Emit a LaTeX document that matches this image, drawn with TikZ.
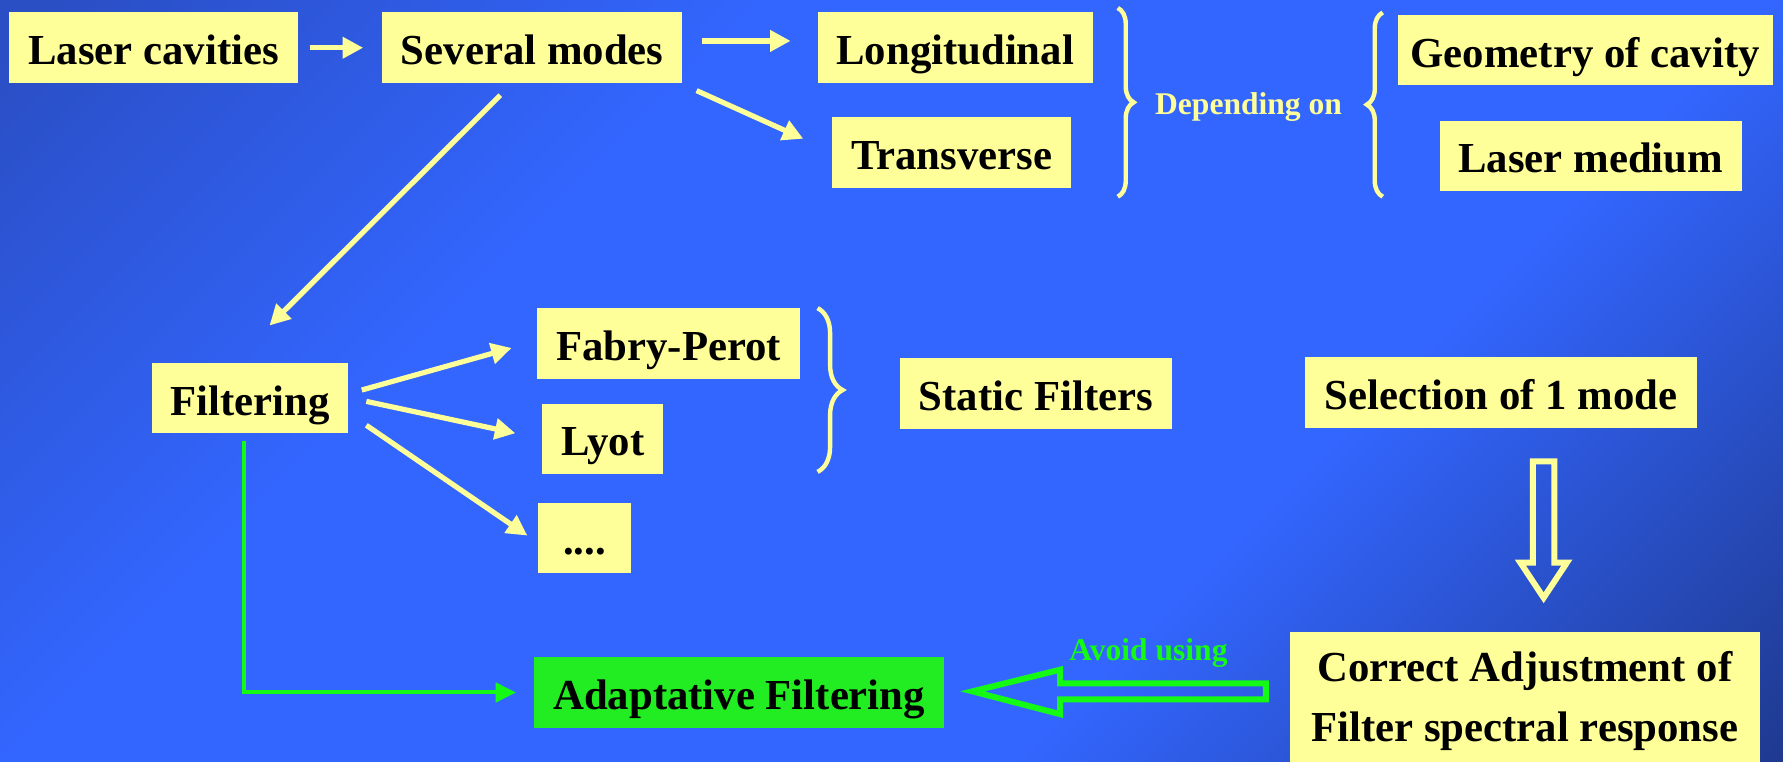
\documentclass[tikz,border=0pt]{standalone}
\usepackage{fontspec}
\setmainfont{Liberation Serif}
\usetikzlibrary{arrows.meta, decorations.pathreplacing}

\definecolor{boxyellow}{RGB}{255,255,153}
\definecolor{boxgreen}{RGB}{34,236,34}
\definecolor{linegreen}{RGB}{20,250,20}
\definecolor{bgdark}{RGB}{42,78,196}
\definecolor{bgmid}{RGB}{51,102,255}
\definecolor{bgnavy}{RGB}{30,56,140}
\pgfdeclarehorizontalshading{slidebg}{100bp}{color(0bp)=(bgdark); color(16bp)=(bgdark); color(36bp)=(bgmid); color(64bp)=(bgmid); color(86bp)=(bgnavy); color(100bp)=(bgnavy)}

\begin{document}
\begin{tikzpicture}[x=0.1mm, y=-0.1mm,
	box/.style={fill=boxyellow, inner xsep=1.65mm, inner ysep=0pt, minimum height=6.2mm, text height=3.2mm, text depth=0.2mm, font=\fontsize{10.7}{12.8}\selectfont\bfseries},
	note/.style={font=\fontsize{7.9}{9.5}\selectfont\bfseries},
	yarrow/.style={draw=boxyellow, line width=1.3pt, -{Triangle[length=1.8mm, width=1.8mm]}},
	garrow/.style={draw=linegreen, line width=1pt, -{Triangle[length=1.8mm, width=1.7mm]}},
	brace/.style={draw=boxyellow, line width=1.1pt, decorate, decoration={brace, amplitude=#1}}]
	\useasboundingbox (0,0) rectangle (1568,670);
	\clip (0,0) rectangle (1568,670);
	\shade[shading=slidebg, shading angle=-45] (0,0) rectangle (1568,670);
	\node[box] (laser) at (135,42) {Laser cavities};
	\node[box] (several) at (468,42) {Several modes};
	\node[box] (longit) at (840,42) {Longitudinal};
	\node[box] (trans) at (837,134) {Transverse};
	\node[box, inner xsep=1.15mm] (geometry) at (1394,44) {Geometry of cavity};
	\node[box] (medium) at (1399,137) {Laser medium};
	\node[note, text=boxyellow] (depending) at (1098,94) {Depending on};
	\node[box] (filtering) at (220,350) {Filtering};
	\node[box] (fabry) at (588,302) {Fabry-Perot};
	\node[box] (lyot) at (530,386) {Lyot};
	\node[box, minimum width=8.1mm] (dots) at (514,473) {....};
	\node[box] (static) at (911,346) {Static Filters};
	\node[box, minimum width=34.5mm] (select) at (1320,345) {Selection of 1 mode};
	\node[box, fill=boxgreen, minimum width=36.1mm] (adapt) at (650,609) {Adaptative Filtering};
	\node[box, anchor=north, align=center, inner ysep=1.7mm, text height={}, text depth={}, minimum width=41.4mm, font=\fontsize{10.7}{15}\selectfont\bfseries] (correct) at (1341,555) {Correct Adjustment of\\Filter spectral response};
	\node[note, text=linegreen] (avoid) at (1010,574) {Avoid using};
	\draw[yarrow] ([shift={(10,0)}]laser.east) -- ([shift={(-16,0)}]several.west);
	\draw[yarrow] ([shift={(17,-6)}]several.east) -- ([shift={(-23,-6)}]longit.west);
	\draw[yarrow] ([shift={(12,6)}]several.south east) -- ([shift={(-25,-12)}]trans.west);
	\draw[yarrow] ([shift={(-28,10)}]several.south) -- ([shift={(17,-32)}]filtering.north);
	\draw[yarrow] ([shift={(11,-7)}]filtering.east) -- ([shift={(-22,4)}]fabry.west);
	\draw[yarrow] ([shift={(15,3)}]filtering.east) -- ([shift={(-23,-5)}]lyot.west);
	\draw[yarrow] ([shift={(15,24)}]filtering.east) -- ([shift={(-9,-2)}]dots.west);
	\draw[brace=1.4mm] (983,7) -- (983,173);
	\draw[brace=1.4mm] (1216,173) -- (1216,11);
	\draw[brace=2.2mm] (719,271) -- (719,415);
	\draw[garrow] ([shift={(-5,6)}]filtering.south) |- ([shift={(-15,0)}]adapt.west);
	\draw[draw=boxyellow, line width=1.5pt] ([shift={(28,29)}]select.south) -- ++(19,0) -- ++(0,89) -- ++(11,0) -- ++(-20.5,31) -- ++(-20.5,-31) -- ++(11,0) -- cycle;
	\draw[draw=linegreen, line width=1.5pt] ([shift={(24,-1)}]adapt.east) -- ++(77,-19) -- ++(0,12) -- ++(181,0) -- ++(0,14) -- ++(-181,0) -- ++(0,13) -- cycle;
\end{tikzpicture}
\end{document}
